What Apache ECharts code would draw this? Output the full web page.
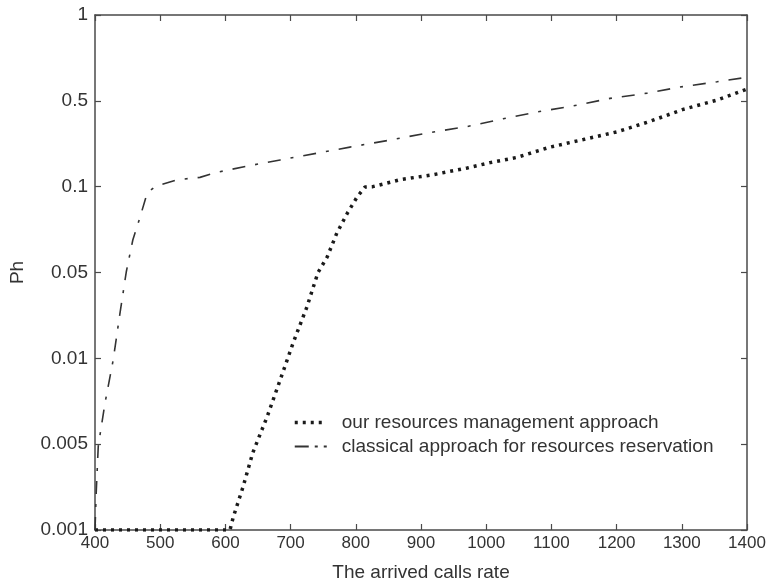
<!DOCTYPE html>
<html>
<head>
<meta charset="utf-8">
<script src="https://cdn.jsdelivr.net/npm/echarts@6/dist/echarts.min.js"></script>
<style>
  html, body { margin: 0; padding: 0; background: #fff; }
  #chart { width: 768px; height: 583px; }
</style>
</head>
<body>
<div id="chart"></div>
<script>
// Tick labels of the Ph axis (equally spaced on the plot)
const yTicks = [0.001, 0.005, 0.01, 0.05, 0.1, 0.5, 1];
const xTicks = [400, 500, 600, 700, 800, 900, 1000, 1100, 1200, 1300, 1400];

// Series: "our resources management approach"
const ourRate = [400, 607, 612, 627, 642, 664, 684, 704, 725, 742, 756, 771, 787, 802, 814, 826, 868, 918, 971, 1006, 1047, 1098, 1149, 1201, 1251, 1302, 1354, 1400];
const ourPh = [0.001, 0.001, 0.00127, 0.00224, 0.00426, 0.00624, 0.0084, 0.0134, 0.0262, 0.05, 0.0566, 0.0688, 0.0807, 0.092, 0.0997, 0.1, 0.114, 0.125, 0.142, 0.157, 0.173, 0.210, 0.242, 0.280, 0.340, 0.426, 0.503, 0.55];

// Series: "classical approach for resources reservation"
const classicRate = [400, 402, 405, 415, 428, 438, 448, 458, 469, 480, 492, 526, 561, 587, 642, 684, 791, 857, 914, 971, 1026, 1078, 1133, 1190, 1247, 1297, 1354, 1400];
const classicPh = [0.001, 0.0021, 0.0048, 0.0069, 0.0099, 0.0227, 0.0503, 0.065, 0.078, 0.095, 0.1, 0.114, 0.119, 0.131, 0.150, 0.165, 0.210, 0.242, 0.276, 0.309, 0.357, 0.406, 0.454, 0.51, 0.532, 0.559, 0.583, 0.605];

const seriesNames = ['our resources management approach', 'classical approach for resources reservation'];

// The Ph axis places its labels at equal steps; a value between two labels
// sits at its logarithmic position inside that step.
function phToAxis(p) {
  for (let i = 0; i < yTicks.length - 1; i++) {
    const a = yTicks[i], b = yTicks[i + 1];
    if (p <= b || i === yTicks.length - 2) {
      return i + Math.log(p / a) / Math.log(b / a);
    }
  }
}

function pairs(xs, ps) {
  return xs.map((x, i) => [x, phToAxis(ps[i])]);
}

const axisColor = '#4a4a4a';
const textColor = '#333333';
const fontFamily = '"Liberation Sans", Arial, sans-serif';

const ourLine = { color: '#1a1a1a', width: 3.5, type: [3, 5] };
const classicLine = { color: '#333333', width: 1.6, type: [13, 10, 3, 10] };

const tickStyle = { show: true, inside: true, length: 6, lineStyle: { color: axisColor, width: 1.2 } };
const lineStyleAxis = { show: true, onZero: false, lineStyle: { color: axisColor, width: 1.5 } };

const chart = echarts.init(document.getElementById('chart'), null, { renderer: 'canvas' });

chart.setOption({
  animation: false,
  backgroundColor: '#ffffff',
  grid: { left: 95, right: 21, top: 15, bottom: 53, containLabel: false, outerBoundsMode: 'none' },
  xAxis: [
    {
      type: 'value', min: 400, max: 1400, interval: 100, position: 'bottom',
      name: 'The arrived calls rate', nameLocation: 'middle', nameGap: 33,
      nameTextStyle: { color: textColor, fontSize: 19, fontFamily },
      axisLine: lineStyleAxis, axisTick: tickStyle,
      axisLabel: { color: textColor, fontSize: 17, fontFamily, margin: 5, formatter: v => String(v) },
      splitLine: { show: false }
    },
    {
      type: 'value', min: 400, max: 1400, interval: 100, position: 'top',
      axisLine: lineStyleAxis, axisTick: tickStyle,
      axisLabel: { show: false }, splitLine: { show: false }
    }
  ],
  yAxis: [
    {
      type: 'value', min: 0, max: yTicks.length - 1, interval: 1, position: 'left',
      name: 'Ph', nameLocation: 'middle', nameGap: 68, nameRotate: 90,
      nameTextStyle: { color: textColor, fontSize: 19, fontFamily },
      axisLine: lineStyleAxis, axisTick: tickStyle,
      axisLabel: { color: textColor, fontSize: 19, fontFamily, margin: 7, formatter: v => String(yTicks[Math.round(v)]) },
      splitLine: { show: false }
    },
    {
      type: 'value', min: 0, max: yTicks.length - 1, interval: 1, position: 'right',
      axisLine: lineStyleAxis, axisTick: tickStyle,
      axisLabel: { show: false }, splitLine: { show: false }
    }
  ],
  legend: {
    orient: 'vertical', left: 288, top: 408, itemGap: 5,
    itemWidth: 32, itemHeight: 14,
    itemStyle: { opacity: 0, borderWidth: 0 },
    textStyle: { color: textColor, fontSize: 19, fontFamily, padding: [0, 0, 0, 10] },
    data: [
      { name: seriesNames[0], lineStyle: { width: 3.5, type: [3, 5], color: ourLine.color } },
      { name: seriesNames[1], lineStyle: { width: 1.8, type: [14, 6, 3, 6], color: classicLine.color } }
    ]
  },
  series: [
    {
      name: seriesNames[0], type: 'line', xAxisIndex: 0, yAxisIndex: 0,
      data: pairs(ourRate, ourPh), showSymbol: false, symbol: 'none',
      lineStyle: ourLine,
      itemStyle: { color: ourLine.color }
    },
    {
      name: seriesNames[1], type: 'line', xAxisIndex: 0, yAxisIndex: 0,
      data: pairs(classicRate, classicPh), showSymbol: false, symbol: 'none',
      lineStyle: classicLine,
      itemStyle: { color: classicLine.color }
    }
  ]
});
</script>
</body>
</html>
